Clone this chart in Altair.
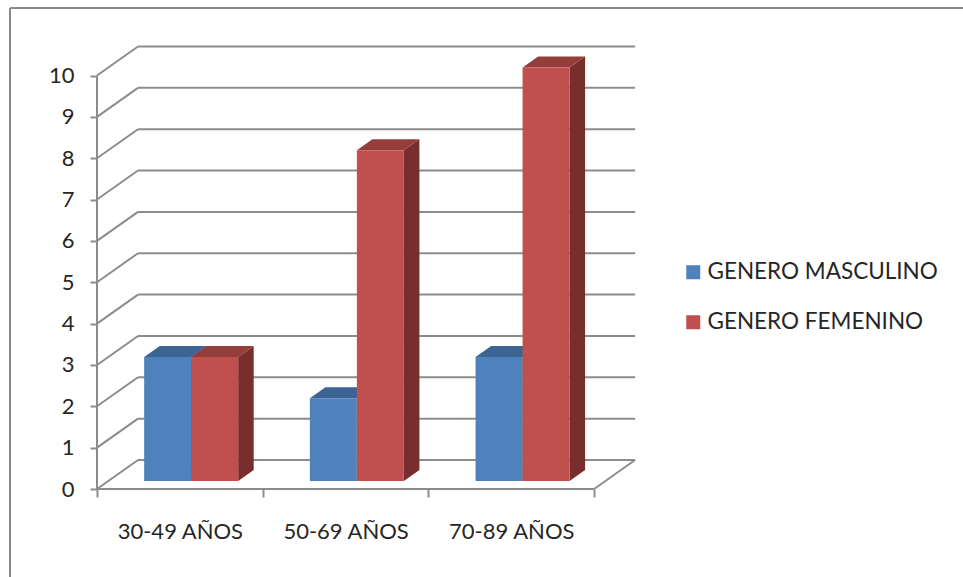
import altair as alt
import pandas as pd

# ---------------- data ----------------
categories = ["30-49 AÑOS", "50-69 AÑOS", "70-89 AÑOS"]
series = ["GENERO MASCULINO", "GENERO FEMENINO"]
masculino = [3, 2, 3]
femenino = [3, 8, 10]
y_ticks = list(range(0, 11))

# ---------------- geometry / style ----------------
UX = 165.7          # px per category
UY = 41.35          # px per unit of value
DX = 41 / UX        # depth offset of back wall (x, in data units)
DY = 29 / UY        # depth offset of back wall (y, in data units)
TF, TB = 0.276, 0.655   # depth fraction of bar front / back
BW = 47 / UX        # bar width in category units

W, H = 547, 447
XMAX, YMAX = W / UX, H / UY
PAD = {"left": 97, "top": 42, "right": 963 - 97 - W, "bottom": 577 - 42 - H}

front_col = {"GENERO MASCULINO": "#4F81BD", "GENERO FEMENINO": "#C0504D"}
top_col = {"GENERO MASCULINO": "#3C6594", "GENERO FEMENINO": "#933E3B"}
side_col = {"GENERO MASCULINO": "#2F5077", "GENERO FEMENINO": "#772E2C"}
GRID = "#8C8C8C"
FONT = "Lato"

# ---------------- tables ----------------
fronts, tops, sides = [], [], []
for i, cat in enumerate(categories):
    c = i + 0.5
    for s, vals in zip(series, [masculino, femenino]):
        v = vals[i]
        left = c - BW if s == series[0] else c
        right = left + BW
        bid = f"{cat}-{s}"
        fronts.append(dict(series=s, x=left + TF * DX, x2=right + TF * DX,
                           y=TF * DY, y2=v + TF * DY))
        for t in (TF, TB):
            tops.append(dict(id=bid, col=top_col[s], y=v + t * DY,
                             x=left + t * DX, x2=right + t * DX))
            sides.append(dict(id=bid, col=side_col[s], x=right + t * DX,
                              y=t * DY, y2=v + t * DY))

rules = []
for v in y_ticks:
    rules.append(dict(x=DX, x2=len(categories) + DX, y=v + DY, y2=v + DY))
    rules.append(dict(x=0, x2=DX, y=v, y2=v + DY))
n = len(categories)
rules.append(dict(x=n, x2=n + DX, y=0, y2=DY))
rules.append(dict(x=0, x2=n, y=0, y2=0))
rules.append(dict(x=0, x2=0, y=0, y2=max(y_ticks)))

df_f, df_t, df_s, df_r = map(pd.DataFrame, [fronts, tops, sides, rules])

xs = alt.Scale(domain=[0, XMAX], nice=False, zero=False)
ys = alt.Scale(domain=[0, YMAX], nice=False, zero=False)

label_expr = " : ".join(
    f"datum.value == {i + 0.5} ? '{c}'" for i, c in enumerate(categories)
) + " : ''"
x_vals = sorted(set([float(i) for i in range(n + 1)] + [i + 0.5 for i in range(n)]))

x_axis = alt.Axis(
    values=x_vals, labelExpr=label_expr, title=None, grid=False, domain=False,
    tickSize=8, tickColor=GRID, tickWidth=2,
    tickOpacity={"condition": {"test": "datum.value % 1 == 0", "value": 1}, "value": 0},
    labelFont=FONT, labelFontSize=22, labelColor="#262626", labelPadding=24,
    labelOverlap=False, labelFlush=False,
)
y_axis = alt.Axis(
    values=y_ticks, title=None, grid=False, domain=False,
    tickSize=7, tickColor=GRID, tickWidth=2,
    labelFont=FONT, labelFontSize=22, labelColor="#262626", labelPadding=16,
    labelOverlap=False, labelFlush=False,
)

grid = alt.Chart(df_r).mark_rule(color=GRID, strokeWidth=2).encode(
    x=alt.X("x:Q", scale=xs, axis=x_axis),
    x2="x2:Q",
    y=alt.Y("y:Q", scale=ys, axis=y_axis),
    y2="y2:Q",
)

side = alt.Chart(df_s).mark_area(strokeWidth=0).encode(
    x=alt.X("x:Q", scale=xs, axis=x_axis),
    y=alt.Y("y:Q", scale=ys, axis=y_axis, stack=None),
    y2="y2:Q",
    detail="id:N",
    color=alt.Color("col:N", scale=None, legend=None),
)

top = alt.Chart(df_t).mark_area(strokeWidth=0, orient="horizontal").encode(
    y=alt.Y("y:Q", scale=ys, axis=y_axis),
    x=alt.X("x:Q", scale=xs, axis=x_axis, stack=None),
    x2="x2:Q",
    detail="id:N",
    color=alt.Color("col:N", scale=None, legend=None),
)

front = alt.Chart(df_f).mark_rect(strokeWidth=0).encode(
    x=alt.X("x:Q", scale=xs, axis=x_axis),
    x2="x2:Q",
    y=alt.Y("y:Q", scale=ys, axis=y_axis),
    y2="y2:Q",
    fill=alt.Fill(
        "series:N",
        scale=alt.Scale(domain=series, range=[front_col[s] for s in series]),
        sort=series,
        legend=alt.Legend(
            title=None, orient="none", legendX=585, legendY=219,
            symbolType="square", symbolSize=196, symbolStrokeWidth=0,
            labelFont=FONT, labelFontSize=22.5, labelColor="#262626",
            labelOffset=3, rowPadding=27, padding=0, labelLimit=400,
        ),
    ),
)

frame_left = alt.Chart(df_r.head(1)).mark_rule(color="#8A8A8A", strokeWidth=2).encode(
    x=alt.value(10 - PAD["left"]), y=alt.value(8 - PAD["top"]),
    y2=alt.value(600),
)
frame_top = alt.Chart(df_r.head(1)).mark_rule(color="#8A8A8A", strokeWidth=2).encode(
    x=alt.value(10 - PAD["left"]), x2=alt.value(1000),
    y=alt.value(8 - PAD["top"]),
)

chart = alt.layer(grid, side, top, front, frame_left, frame_top).properties(
    width=W, height=H, padding=PAD, autosize="none", background="white",
).configure_view(stroke=None)

chart.save("out.html", embed_options={"renderer": "svg", "actions": False})
